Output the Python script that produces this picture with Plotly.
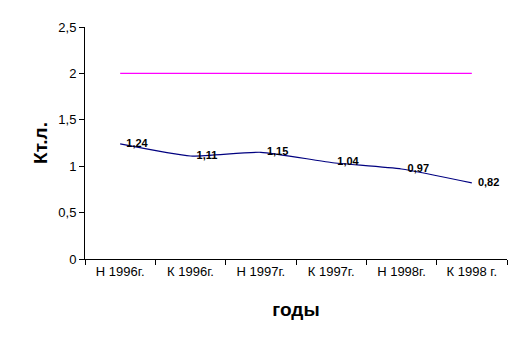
import plotly.graph_objects as go

categories = ["Н 1996г.", "К 1996г.", "Н 1997г.", "К 1997г.", "Н 1998г.", "К 1998 г."]
ktl = [1.24, 1.11, 1.15, 1.04, 0.97, 0.82]
norm = [2, 2, 2, 2, 2, 2]
y_ticks = [0, 0.5, 1, 1.5, 2, 2.5]
y_tick_text = ["0", "0,5", "1", "1,5", "2", "2,5"]

labels = ["  " + f"{v:.2f}".replace(".", ",") for v in ktl]

fig = go.Figure()
fig.add_trace(go.Scatter(
    x=categories, y=norm, mode="lines",
    line=dict(color="#FF00FF", width=1.3), hoverinfo="skip", showlegend=False))
fig.add_trace(go.Scatter(
    x=categories, y=ktl, mode="lines+text",
    line=dict(color="#000080", width=1.2, shape="spline", smoothing=0.5),
    text=labels, textposition="middle right",
    textfont=dict(family="Arial", size=11, color="black", weight="bold"),
    showlegend=False))

fig.update_layout(
    width=522, height=343,
    margin=dict(l=85, r=15, t=27, b=84),
    paper_bgcolor="white", plot_bgcolor="white",
    font=dict(family="Arial", size=13, color="black"),
    xaxis=dict(
        type="category", range=[-0.5, 5.5], tickson="boundaries",
        ticks="outside", ticklen=5, tickcolor="black",
        showline=True, linecolor="black", linewidth=1,
        showgrid=False, zeroline=False,
        tickfont=dict(family="Arial", size=13),
        title=dict(text="годы", font=dict(family="Arial", size=19, weight="bold"), standoff=25),
    ),
    yaxis=dict(
        range=[0, 2.5], tickvals=y_ticks, ticktext=y_tick_text,
        ticks="outside", ticklen=5, tickcolor="black",
        showline=True, linecolor="black", linewidth=1,
        showgrid=False, zeroline=False,
        tickfont=dict(family="Arial", size=13),
        title=dict(text="Кт.л.", font=dict(family="Arial", size=19, weight="bold"), standoff=5),
    ),
)

fig.write_html("out.html")
